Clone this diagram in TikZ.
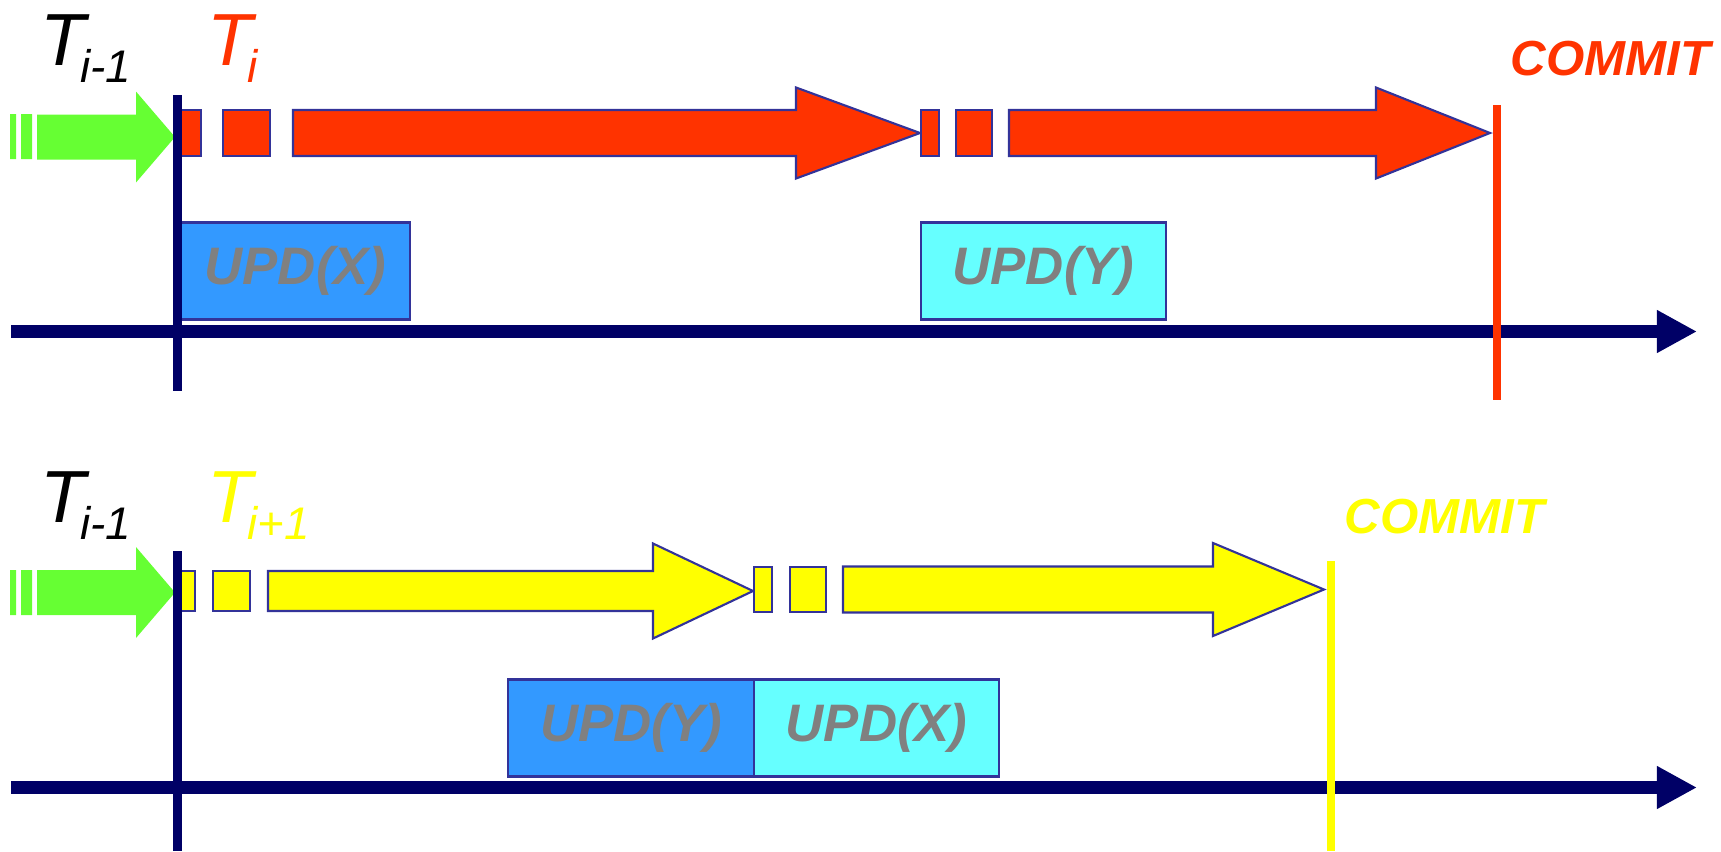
\documentclass[tikz,border=0pt]{standalone}
\usepackage{fontspec}
\setmainfont{Liberation Sans}
\usetikzlibrary{arrows.meta,positioning}
\definecolor{tred}{HTML}{FF3300}
\definecolor{tyellow}{HTML}{FFFF00}
\definecolor{tgreen}{HTML}{66FF33}
\definecolor{tnavy}{HTML}{000066}
\definecolor{tedge}{HTML}{333399}
\definecolor{updblue}{HTML}{3399FF}
\definecolor{updcyan}{HTML}{66FFFF}
\definecolor{updtext}{HTML}{808080}
\newcommand{\tname}[2]{\fontsize{21}{21}\selectfont\itshape #1\kern-1.5pt\raisebox{-5pt}{\fontsize{13}{13}\selectfont #2}}

\begin{document}
\begin{tikzpicture}[x=0.01cm,y=-0.01cm,
    block arrow/.style args={#1:#2:#3:#4:#5:#6}{
            insert path={(#1,#4-#5) -- (#2,#4-#5) -- (#2,#4-#6) -- (#3,#4) -- (#2,#4+#6) -- (#2,#4+#5) -- (#1,#4+#5) -- cycle}
        },
    redblock/.style={fill=tred,draw=tedge,line width=0.6pt},
    yellowblock/.style={fill=tyellow,draw=tedge,line width=0.6pt},
    timeline/.style={tnavy,line width=3.7pt,-{Triangle[length=0.4cm,width=0.4cm]}},
    startline/.style={tnavy,line width=2.5pt},
    updbox/.style={draw=tedge,line width=0.6pt,inner sep=0pt,outer sep=0pt,minimum height=0.97cm,
            text=updtext,font=\fontsize{15}{15}\selectfont\bfseries\itshape},
    tlabel/.style={anchor=base west,inner sep=0pt},
    commitlabel/.style={anchor=base west,inner sep=0pt,font=\fontsize{14}{14}\selectfont\bfseries\itshape}]
    \useasboundingbox (0,0) rectangle (1721,851);

    \node[updbox,fill=updblue,minimum width=2.29cm] (updx) at (295.5,271) {UPD(X)};
    \node[updbox,fill=updcyan,minimum width=2.45cm] (updy) at (1043.5,271) {UPD(Y)};
    \node[updbox,fill=updblue,minimum width=2.46cm] (lowy) at (631,728) {UPD(Y)};
    \node[updbox,fill=updcyan,minimum width=2.45cm,right=0pt of lowy] (lowx) {UPD(X)};

    \fill[tgreen] (10,114) rectangle (16,159) (21,114) rectangle (32,159);
    \fill[tgreen] [block arrow=37:136:175:137:22.5:45.5];
    \draw[redblock] (181,110) rectangle (201,156);
    \draw[redblock] (223,110) rectangle (270,156);
    \draw[redblock] [block arrow=293:796:920:133:23:45.5];
    \draw[redblock] (921,110) rectangle (939,156);
    \draw[redblock] (956,110) rectangle (992,156);
    \draw[redblock] [block arrow=1009:1376:1490:133:23:45.5];

    \fill[tgreen] (10,570) rectangle (16,615) (21,570) rectangle (32,615);
    \fill[tgreen] [block arrow=37:136:175:592.5:22.5:45.5];
    \draw[yellowblock] (178,571) rectangle (195,611);
    \draw[yellowblock] (213,571) rectangle (250,611);
    \draw[yellowblock] [block arrow=268:653:753:591:20:47.5];
    \draw[yellowblock] (754,567) rectangle (772,612);
    \draw[yellowblock] (790,567) rectangle (826,612);
    \draw[yellowblock] [block arrow=843:1213:1324:589.5:23:46.5];

    \coordinate (topstart) at (11,331.5);
    \coordinate (topend) at (1697,331.5);
    \coordinate (lowstart) at (11,787.5);
    \coordinate (lowend) at (1697,787.5);
    \draw[timeline] (topstart) -- (topend);
    \draw[timeline] (lowstart) -- (lowend);

    \draw[startline] (177.5,95) -- (177.5,391);
    \draw[startline] (177.5,551) -- (177.5,851);
    \draw[tred,line width=2.5pt] (1497,105) -- (1497,400);
    \draw[tyellow,line width=2.3pt] (1331,561) -- (1331,851);

    \node[tlabel] (prevtop) at (40,65) {\tname{T}{i-1}};
    \node[tlabel,text=tred] (ti) at (207,65) {\tname{T}{i}};
    \node[commitlabel,text=tred] (committop) at (1510,75) {COMMIT};
    \node[tlabel] (prevlow) at (40,522) {\tname{T}{i-1}};
    \node[tlabel,text=tyellow] (tnext) at (207,522) {\tname{T}{i+1}};
    \node[commitlabel,text=tyellow] (commitlow) at (1344,533) {COMMIT};
\end{tikzpicture}
\end{document}
